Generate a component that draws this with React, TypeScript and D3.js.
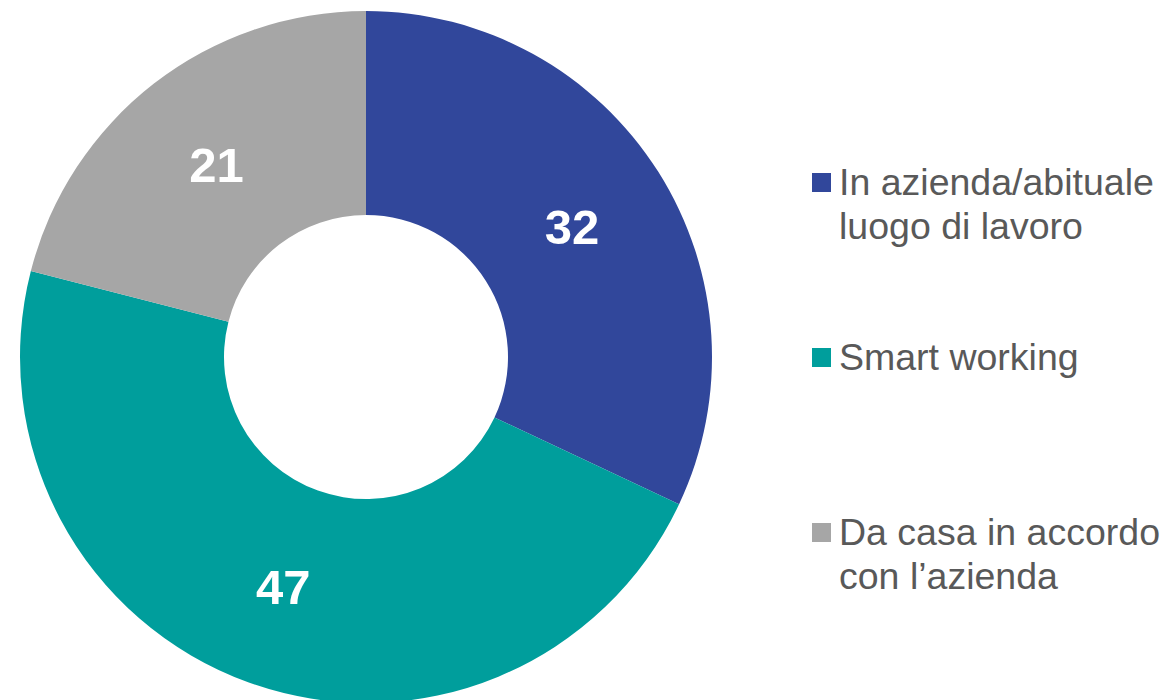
import React from "react";
import * as d3 from "d3";

const categories = ["In azienda/abituale luogo di lavoro", "Smart working", "Da casa in accordo con l’azienda"];
const values = [32, 47, 21];
const colors = ["#31479B", "#009E9C", "#A6A6A6"];
const legendLines = [["In azienda/abituale", "luogo di lavoro"], ["Smart working"], ["Da casa in accordo", "con l’azienda"]];

const W = 1164;
const H = 700;
const cx = 366;
const cy = 357;
const R = 346;
const r = 142;

export default function App() {
  const pie = d3.pie<number>().sort(null).value((d) => d);
  const arcs = pie(values);
  const arc = d3.arc<d3.PieArcDatum<number>>().innerRadius(r).outerRadius(R);
  const legendY = d3.scalePoint<number>().domain([0, 1, 2]).range([195, 545]);
  const font = "'Liberation Sans', Arial, sans-serif";
  return (
    <svg width={W} height={H} style={{ position: "absolute", left: 0, top: 0 }}>
      <g transform={`translate(${cx},${cy})`}>
        {arcs.map((a, i) => (
          <path key={i} d={arc(a) || ""} fill={colors[i]} />
        ))}
        {arcs.map((a, i) => {
          const [x, y] = arc.centroid(a);
          return (
            <text key={"l" + i} x={x} y={y + 17.5} textAnchor="middle" fill="#fff" fontWeight="bold" fontSize={49} fontFamily={font}>
              {values[i]}
            </text>
          );
        })}
      </g>
      {categories.map((c, i) => {
        const by = legendY(i) as number;
        return (
          <g key={"lg" + i}>
            <rect x={812} y={by - 22} width={19} height={19} fill={colors[i]} />
            <text x={839} y={by} fill="#595959" fontSize={37.5} fontFamily={font}>
              {legendLines[i].map((t, j) => (
                <tspan key={j} x={839} y={by + j * 44}>
                  {t}
                </tspan>
              ))}
            </text>
          </g>
        );
      })}
    </svg>
  );
}
